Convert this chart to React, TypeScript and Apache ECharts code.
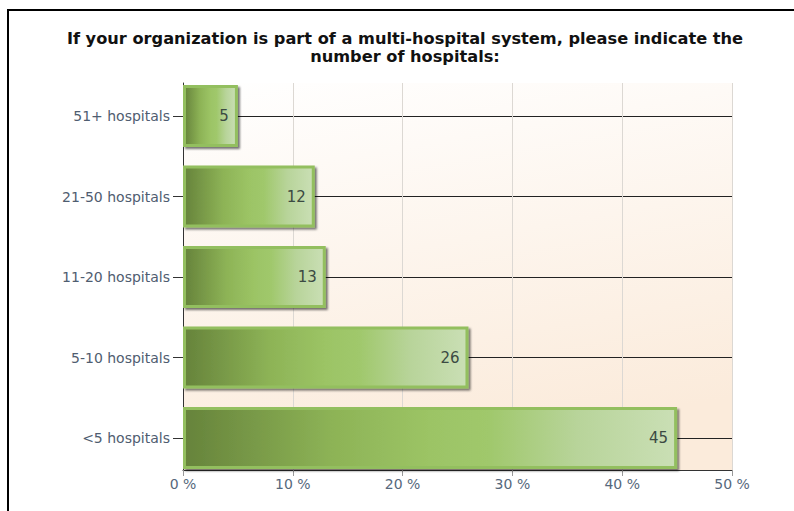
import React, { useEffect, useRef } from "react";
import * as echarts from "echarts";

const categories = ["<5 hospitals", "5-10 hospitals", "11-20 hospitals", "21-50 hospitals", "51+ hospitals"];
const values = [45, 26, 13, 12, 5];
const titleText = "If your organization is part of a multi-hospital system, please indicate the\nnumber of hospitals:";
const xMin = 0;
const xMax = 50;
const xInterval = 10;

const FONT = "'DejaVu Sans', Verdana, sans-serif";

export default function App() {
  const ref = useRef<HTMLDivElement>(null);
  useEffect(() => {
    if (!ref.current) return;
    const chart = echarts.init(ref.current, undefined, { renderer: "svg" });
    const barGradient = new echarts.graphic.LinearGradient(0, 0, 1, 0, [
      { offset: 0, color: "#66833b" },
      { offset: 0.3, color: "#8db356" },
      { offset: 0.5, color: "#9cc465" },
      { offset: 0.62, color: "#a0c86c" },
      { offset: 0.8, color: "#b8d49a" },
      { offset: 1, color: "#cadfb5" },
    ]);
    const bgGradient = new echarts.graphic.LinearGradient(0, 0, 0.25, 1, [
      { offset: 0, color: "#ffffff" },
      { offset: 1, color: "#fbebdb" },
    ]);
    chart.setOption({
      animation: false,
      backgroundColor: "#ffffff",
      textStyle: { fontFamily: FONT },
      title: {
        text: titleText,
        left: 405,
        top: 29,
        padding: 0,
        textAlign: "center",
        textStyle: { fontFamily: FONT, fontSize: 16.2, fontWeight: "bold", color: "#111", lineHeight: 18 },
      },
      graphic: [
        { type: "line", shape: { x1: 7, y1: 10, x2: 794, y2: 10 }, style: { stroke: "#000", lineWidth: 2 } },
        { type: "line", shape: { x1: 8, y1: 9, x2: 8, y2: 511 }, style: { stroke: "#000", lineWidth: 2 } },
      ],
      grid: [
        { left: 183, right: 62, top: 83, bottom: 41, show: true, backgroundColor: bgGradient, borderWidth: 0 },
        { left: 183, right: 62, top: 75.75, bottom: 32.75 },
        { left: 183, right: 62, top: 116, bottom: 73 },
      ],
      xAxis: [
        {
          gridIndex: 0,
          type: "value",
          min: xMin,
          max: xMax,
          interval: xInterval,
          axisLine: { show: true, lineStyle: { color: "#333", width: 1 } },
          axisTick: { show: true, length: 6, lineStyle: { color: "#999" } },
          axisLabel: { formatter: "{value} %", color: "#56687c", fontSize: 14, margin: 7, fontFamily: FONT },
          splitLine: { show: true, lineStyle: { color: "#dcd8d3", width: 1 } },
        },
        { gridIndex: 1, type: "value", min: xMin, max: xMax, show: false },
        { gridIndex: 2, type: "value", min: xMin, max: xMax, show: false },
      ],
      yAxis: [
        {
          gridIndex: 0,
          type: "category",
          data: categories,
          axisLine: { show: true, lineStyle: { color: "#333", width: 1 } },
          axisTick: { show: false },
          axisLabel: { show: false },
          splitLine: { show: false },
        },
        { gridIndex: 1, type: "category", data: categories, show: false },
        {
          gridIndex: 2,
          type: "category",
          data: categories,
          boundaryGap: false,
          axisLine: { show: false },
          axisTick: { show: true, length: 10, lineStyle: { color: "#333" } },
          axisLabel: { color: "#4f5d70", fontSize: 14, margin: 13, fontFamily: FONT },
          splitLine: { show: true, lineStyle: { color: "#222", width: 1 } },
        },
      ],
      series: [
        {
          type: "bar",
          xAxisIndex: 1,
          yAxisIndex: 1,
          data: values,
          barWidth: 62,
          itemStyle: {
            color: barGradient,
            borderColor: "#93bf5f",
            borderWidth: 3,
            shadowColor: "rgba(0,0,0,0.55)",
            shadowBlur: 2,
            shadowOffsetX: 2,
            shadowOffsetY: 2,
          },
          label: {
            show: true,
            position: "insideRight",
            distance: 9,
            color: "#3b4a42",
            fontSize: 15,
            fontFamily: FONT,
          },
        },
      ],
    });
    return () => chart.dispose();
  }, []);
  return <div ref={ref} style={{ position: "fixed", left: 0, top: 0, width: 794, height: 511 }} />;
}
